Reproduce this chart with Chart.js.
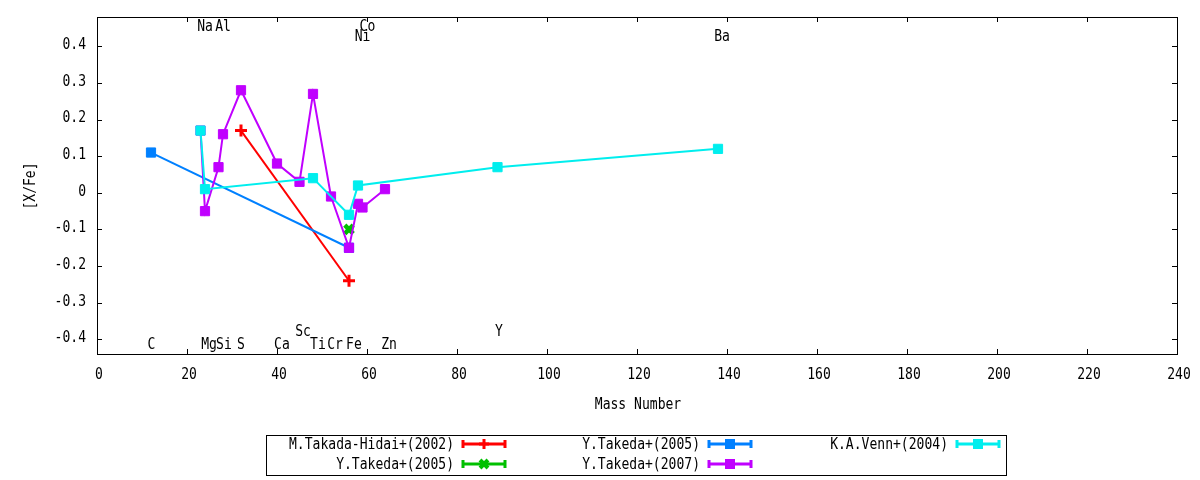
<!DOCTYPE html>
<html lang="en">
<head>
    <meta charset="UTF-8">
    <title>[X/Fe] vs Mass Number</title>
    <script src="https://cdn.jsdelivr.net/npm/chart.js"></script>
    <style>
        body { margin: 0; background: #fff; }
        #wrap { width: 1200px; height: 480px; }
    </style>
</head>
<body>
    <div id="wrap"><canvas id="abundChart" width="1200" height="480"></canvas></div>
    <script>
        // series (mass number, [X/Fe])
        const takadaMass = [32, 56];
        const takadaVal = [0.17, -0.24];
        const takeda05FeMass = [56];
        const takeda05FeVal = [-0.10];
        const takeda05Mass = [12, 56];
        const takeda05Val = [0.11, -0.15];
        const takeda07Mass = [23, 24, 27, 28, 32, 40, 45, 48, 52, 56, 58, 59, 64];
        const takeda07Val = [0.17, -0.05, 0.07, 0.16, 0.28, 0.08, 0.03, 0.27, -0.01, -0.15, -0.03, -0.04, 0.01];
        const vennMass = [23, 24, 48, 56, 58, 89, 138];
        const vennVal = [0.17, 0.01, 0.04, -0.06, 0.02, 0.07, 0.12];

        const seriesNames = ['M.Takada-Hidai+(2002)', 'Y.Takeda+(2005)', 'Y.Takeda+(2005)', 'Y.Takeda+(2007)', 'K.A.Venn+(2004)'];

        // element labels
        const elemNames = ['Na', 'Al', 'Co', 'Ni', 'Ba', 'Sc', 'Y', 'C', 'Mg', 'Si', 'S', 'Ca', 'Ti', 'Cr', 'Fe', 'Zn'];
        const elemX = [24.0, 28.0, 60.1, 59.0, 138.9, 45.8, 89.3, 12.1, 24.9, 28.2, 32.0, 41.1, 49.1, 52.9, 57.1, 64.9];
        const elemY = [0.452, 0.452, 0.452, 0.426, 0.426, -0.38, -0.38, -0.415, -0.415, -0.415, -0.415, -0.415, -0.415, -0.415, -0.415, -0.415];

        const xTicks = [0, 20, 40, 60, 80, 100, 120, 140, 160, 180, 200, 220, 240];
        const yTicks = [-0.4, -0.3, -0.2, -0.1, 0, 0.1, 0.2, 0.3, 0.4];

        // gnuplot's narrow mono look: DejaVu Sans Mono squeezed horizontally
        const FONT = '15px "DejaVu Sans Mono", "Liberation Mono", monospace';
        const SQUEEZE = 0.87;

        function pts(xs, ys) {
            return xs.map((x, i) => ({ x: x, y: ys[i] }));
        }

        function makeSet(i, xs, ys, color, style, radius, bw) {
            return {
                label: seriesNames[i],
                data: pts(xs, ys),
                order: 10 - i,   // later series on top, like gnuplot
                borderColor: color,
                backgroundColor: color,
                borderWidth: 2,
                pointStyle: style,
                pointRadius: radius,
                pointBorderWidth: bw,
                pointBorderColor: color,
                pointBackgroundColor: color,
                tension: 0,
                showLine: true
            };
        }

        function text(ctx, str, x, y, align, rot) {
            ctx.save();
            ctx.translate(x, y);
            if (rot) ctx.rotate(rot);
            ctx.scale(SQUEEZE, 1);
            ctx.textAlign = align || 'center';
            ctx.textBaseline = 'middle';
            ctx.fillText(str, 0, 0);
            ctx.restore();
        }

        // border, inward ticks, tick labels, element labels, axis titles and key
        const gnuplotLook = {
            id: 'gnuplotLook',
            afterDraw(chart) {
                const ctx = chart.ctx;
                const area = chart.chartArea;
                const xs = chart.scales.x;
                const ys = chart.scales.y;
                ctx.save();
                ctx.strokeStyle = '#000';
                ctx.lineWidth = 1;
                ctx.strokeRect(Math.round(area.left) + 0.5, Math.round(area.top) + 0.5,
                    Math.round(area.right - area.left), Math.round(area.bottom - area.top));

                const tl = 5;
                ctx.beginPath();
                xTicks.forEach(v => {
                    const px = Math.round(xs.getPixelForValue(v)) + 0.5;
                    ctx.moveTo(px, area.bottom); ctx.lineTo(px, area.bottom - tl);
                    ctx.moveTo(px, area.top); ctx.lineTo(px, area.top + tl);
                });
                yTicks.forEach(v => {
                    const py = Math.round(ys.getPixelForValue(v)) + 0.5;
                    ctx.moveTo(area.left, py); ctx.lineTo(area.left + tl, py);
                    ctx.moveTo(area.right, py); ctx.lineTo(area.right - tl, py);
                });
                ctx.stroke();

                ctx.fillStyle = '#000';
                ctx.font = FONT;

                xTicks.forEach(v => {
                    text(ctx, String(v), xs.getPixelForValue(v) + 2, area.bottom + 21, 'center');
                });
                yTicks.forEach(v => {
                    const lab = Math.abs(v) < 1e-9 ? '0' : v.toFixed(1);
                    text(ctx, lab, area.left - 11, ys.getPixelForValue(v) - 1, 'right');
                });

                elemNames.forEach((n, i) => {
                    text(ctx, n, xs.getPixelForValue(elemX[i]), ys.getPixelForValue(elemY[i]), 'center');
                });

                // axis titles
                text(ctx, 'Mass Number', (area.left + area.right) / 2 + 1, 405, 'center');
                text(ctx, '[X/Fe]', 31, 186, 'center', -Math.PI / 2);

                // key box
                ctx.strokeRect(266.5, 435.5, 740, 40);
                const textRight = [454, 700, 948];
                const rowY = [444, 464];
                chart.data.datasets.forEach((ds, i) => {
                    const col = Math.floor(i / 2);
                    const y = rowY[i % 2];
                    const tr = textRight[col];
                    ctx.fillStyle = '#000';
                    text(ctx, ds.label, tr, y + 1, 'right');
                    const x0 = tr + 9, x1 = tr + 51, xm = (x0 + x1) / 2;
                    ctx.strokeStyle = ds.borderColor;
                    ctx.fillStyle = ds.borderColor;
                    ctx.lineWidth = 3;
                    ctx.beginPath();
                    ctx.moveTo(x0, y); ctx.lineTo(x1, y);
                    ctx.moveTo(x0, y - 4); ctx.lineTo(x0, y + 4);
                    ctx.moveTo(x1, y - 4); ctx.lineTo(x1, y + 4);
                    ctx.stroke();
                    if (ds.pointStyle === 'rect') {
                        ctx.fillRect(xm - 5, y - 5, 10, 10);
                    } else if (ds.pointStyle === 'cross') {
                        ctx.beginPath();
                        ctx.moveTo(xm - 5, y); ctx.lineTo(xm + 5, y);
                        ctx.moveTo(xm, y - 5); ctx.lineTo(xm, y + 5);
                        ctx.stroke();
                    } else {
                        ctx.lineWidth = 4;
                        ctx.beginPath();
                        ctx.moveTo(xm - 4, y - 4); ctx.lineTo(xm + 4, y + 4);
                        ctx.moveTo(xm - 4, y + 4); ctx.lineTo(xm + 4, y - 4);
                        ctx.stroke();
                    }
                });
                ctx.restore();
            }
        };

        const ctx = document.getElementById('abundChart').getContext('2d');
        new Chart(ctx, {
            type: 'line',
            data: {
                datasets: [
                    makeSet(0, takadaMass, takadaVal, '#ff0000', 'cross', 6, 3),
                    makeSet(1, takeda05FeMass, takeda05FeVal, '#00c000', 'crossRot', 6, 4.5),
                    makeSet(2, takeda05Mass, takeda05Val, '#0080ff', 'rect', 6.5, 1),
                    makeSet(3, takeda07Mass, takeda07Val, '#c000ff', 'rect', 6.5, 1),
                    makeSet(4, vennMass, vennVal, '#00eeee', 'rect', 6.5, 1)
                ]
            },
            options: {
                responsive: false,
                animation: false,
                layout: { padding: { left: 0, top: 17, right: 23, bottom: 0 } },
                plugins: {
                    legend: { display: false },
                    tooltip: { enabled: false }
                },
                scales: {
                    x: {
                        type: 'linear',
                        min: 0,
                        max: 240,
                        grid: { display: false },
                        border: { display: false },
                        ticks: { display: false },
                        afterBuildTicks: s => { s.ticks = xTicks.map(v => ({ value: v })); },
                        afterFit: s => { s.height = 126; }
                    },
                    y: {
                        type: 'linear',
                        min: -0.44,
                        max: 0.48,
                        grid: { display: false },
                        border: { display: false },
                        ticks: { display: false },
                        afterBuildTicks: s => { s.ticks = yTicks.map(v => ({ value: v })); },
                        afterFit: s => { s.width = 97; }
                    }
                }
            },
            plugins: [gnuplotLook]
        });
    </script>
</body>
</html>
